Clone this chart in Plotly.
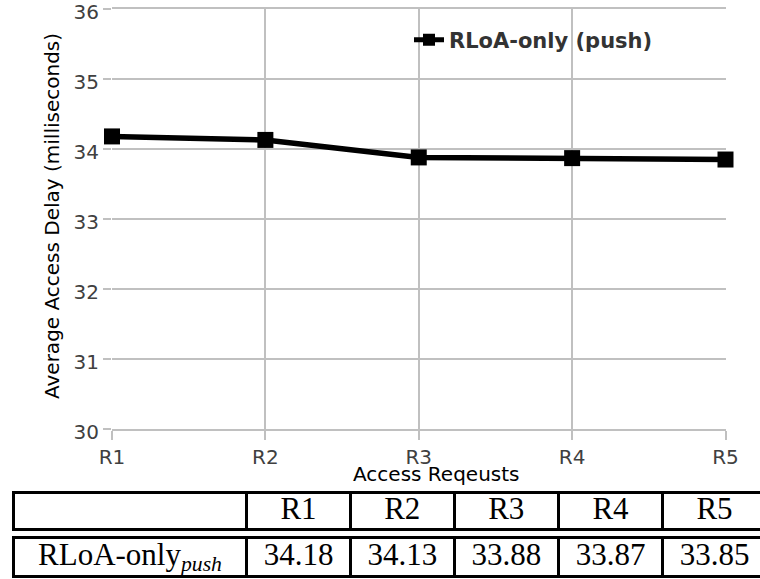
import plotly.graph_objects as go

# ---- data ----
categories = ["R1", "R2", "R3", "R4", "R5"]
series_name = "RLoA-only (push)"
delay_values = [34.18, 34.13, 33.88, 33.87, 33.85]
table_row_label = "RLoA-only<sub><i>push</i></sub>"
y_tick_values = [30, 31, 32, 33, 34, 35, 36]

# ---- layout constants ----
W, H = 760, 579
ML, MR, MT, MB = 12, 0, 9, 0
PW, PH = W - ML - MR, H - MT - MB

def px_x(p):
    return (p - ML) / PW

def px_y(p):
    return (H - MB - p) / PH

grid_col = "#c0c0c0"
tick_font = dict(family="DejaVu Sans", size=20, color="#404040")
table_font = dict(family="Liberation Serif", size=31, color="black")

# table column layout (pixel widths, starting just inside the left edge)
table_left = 1.5
col_widths = [233, 104, 103.5, 104.5, 104, 130]
col_edges = [table_left]
for w in col_widths:
    col_edges.append(col_edges[-1] + w)
col_centers = [(a + b) / 2 for a, b in zip(col_edges[:-1], col_edges[1:])]
col_centers[-1] = col_edges[-2] + 104 / 2

fig = go.Figure()

fig.add_trace(go.Scatter(
    x=categories, y=delay_values, name=series_name,
    mode="lines+markers",
    line=dict(color="black", width=5.5),
    marker=dict(symbol="square", size=16, color="black"),
    cliponaxis=False, xaxis="x", yaxis="y",
))

# table: header row (x2/y2) and data row (x3/y3)
header_text = [""] + categories
data_text = [table_row_label] + [f"{v:.2f}" for v in delay_values]
fig.add_trace(go.Scatter(
    x=col_centers, y=[0.5] * len(header_text), text=header_text,
    mode="text", textposition="middle center", textfont=table_font,
    showlegend=False, hoverinfo="skip", xaxis="x2", yaxis="y2",
    cliponaxis=False,
))
fig.add_trace(go.Scatter(
    x=col_centers, y=[0.5] * len(data_text), text=data_text,
    mode="text", textposition="middle center", textfont=table_font,
    showlegend=False, hoverinfo="skip", xaxis="x3", yaxis="y3",
    cliponaxis=False,
))

table_x = dict(
    domain=[0, 1], range=[0, PW], showgrid=True, gridcolor="black", gridwidth=3,
    tickvals=col_edges[:-1], showticklabels=False, ticks="", zeroline=False,
    showline=True, mirror=True, linecolor="black", linewidth=3,
    automargin=False, fixedrange=True,
)
table_y = dict(
    range=[0, 1], showgrid=False, showticklabels=False, ticks="",
    zeroline=False, showline=False, automargin=False, fixedrange=True,
)

fig.update_layout(
    template="none",
    width=W, height=H,
    margin=dict(l=ML, r=MR, t=MT, b=MB, pad=0),
    plot_bgcolor="white", paper_bgcolor="white",
    showlegend=True,
    legend=dict(
        x=px_x(409), y=px_y(40), xanchor="left", yanchor="middle",
        bgcolor="rgba(0,0,0,0)", borderwidth=0,
        font=dict(family="DejaVu Sans", size=21, color="#333333", weight="bold"),
        itemwidth=30, itemsizing="constant",
    ),
    xaxis=dict(
        domain=[px_x(112), px_x(725.5)],
        type="category", range=[0, 4],
        showgrid=True, gridcolor=grid_col, gridwidth=2,
        ticks="outside", ticklen=9, tickcolor=grid_col, tickwidth=2,
        showline=True, mirror=True, linecolor=grid_col, linewidth=2,
        zeroline=False, automargin=False,
        tickfont=tick_font, ticklabeloverflow="allow",
    ),
    yaxis=dict(
        domain=[px_y(429), 1],
        range=[30, 36.0005], tickvals=y_tick_values,
        showgrid=True, gridcolor=grid_col, gridwidth=2,
        ticks="outside", ticklen=8, tickcolor=grid_col, tickwidth=2,
        showline=False, zeroline=False, automargin=False,
        tickfont=tick_font, ticklabeloverflow="allow", ticklabelshift=3,
    ),
    xaxis2=dict(table_x, anchor="y2"),
    yaxis2=dict(table_y, anchor="x2", domain=[px_y(528), px_y(494)]),
    xaxis3=dict(table_x, anchor="y3"),
    yaxis3=dict(table_y, anchor="x3", domain=[px_y(575), px_y(539)]),
)

# axis titles
fig.add_annotation(
    text="Access Reqeusts", xref="paper", yref="paper",
    x=px_x(436), y=px_y(474), xanchor="center", yanchor="middle",
    showarrow=False, font=dict(family="DejaVu Sans", size=20, color="black"),
)
fig.add_annotation(
    text="Average Access Delay (milliseconds)", xref="paper", yref="paper",
    x=px_x(52), y=px_y(216), xanchor="center", yanchor="middle", textangle=-90,
    showarrow=False, font=dict(family="DejaVu Sans", size=20, color="black"),
)

fig.write_html(
    "out.html",
    config={"displayModeBar": False},
    post_script="document.body.style.margin='0px';document.body.style.padding='0px';"
                "document.body.style.overflow='hidden';",
)
